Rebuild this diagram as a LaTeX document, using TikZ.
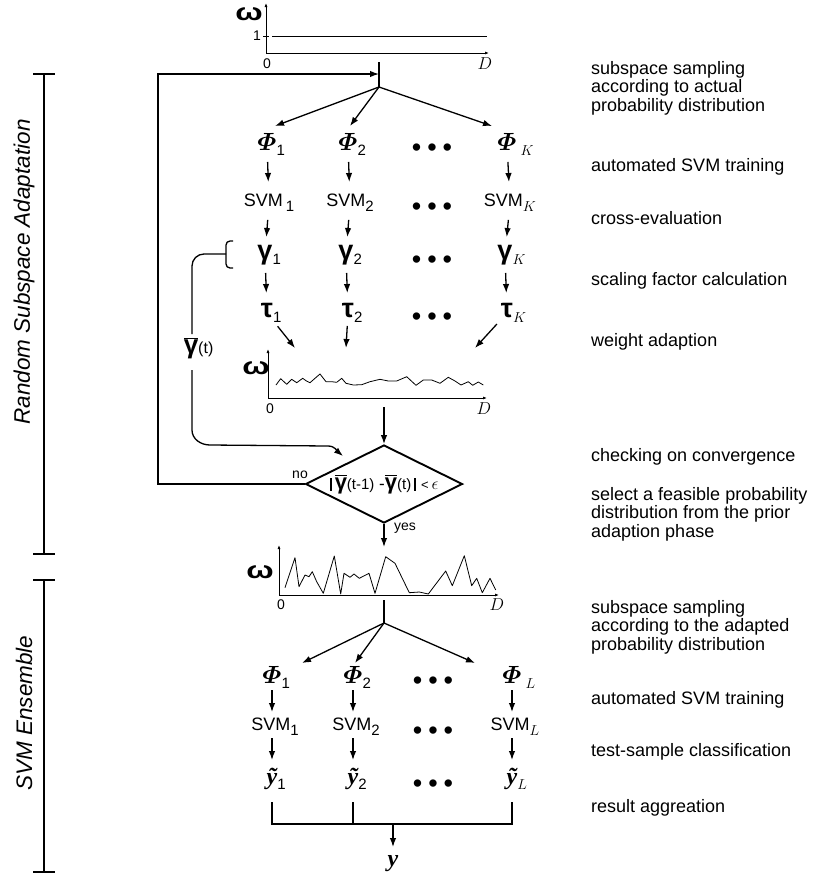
\documentclass[tikz,border=0pt]{standalone}
\usepackage{amsmath}
\usepackage{graphicx}
\usepackage{fontspec}
\setmainfont{Liberation Sans}
\newfontfamily\ytfont{Liberation Serif}
\usetikzlibrary{arrows.meta,shapes.geometric}
\newcommand\lsub[1]{\raisebox{-5pt}{\normalfont\fontsize{15}{15}\selectfont #1}}
\newcommand\gbar[1]{$\overline{\hbox{\fontsize{#1}{#1}\selectfont\bfseries γ}}$}
\newcommand\vbar{\rule[-1.5pt]{2.4pt}{13pt}}
\newcommand\omg{\scalebox{1.35}[1.0]{\fontsize{24}{24}\selectfont\bfseries ω}}
\newcommand\dotrowtext{•\hspace{6pt}•\hspace{6pt}•}
\newcommand\ytil{{\ytfont\bfseries\itshape ỹ}}
\newcommand\yplain{{\ytfont\bfseries\itshape y}}
\begin{document}
\begin{tikzpicture}[x=1pt,y=-1pt,
  conn/.style={line width=1.3pt},
  arr/.style={line width=1.3pt,-{Latex[length=9pt,width=6.5pt]}},
  axisline/.style={line width=1pt,-{Latex[length=4pt,width=3pt]}},
  plotline/.style={line width=0.8pt,line join=round},
  desc/.style={anchor=west,align=left,inner sep=0pt,font=\fontsize{18}{18.5}\selectfont},
  phi/.style={inner sep=0pt,font=\fontsize{24}{24}\selectfont},
  greek/.style={inner sep=0pt,font=\fontsize{27}{27}\selectfont\bfseries},
  svm/.style={inner sep=0pt,font=\fontsize{18}{18}\selectfont},
  tiny/.style={inner sep=0pt,font=\fontsize{14}{14}\selectfont},
  dotrow/.style={inner sep=0pt,font=\fontsize{27}{27}\selectfont},
  sidelabel/.style={rotate=90,inner sep=0pt,font=\fontsize{22.5}{22.5}\selectfont\itshape},
  bracketline/.style={line width=2.3pt}]
\useasboundingbox (0,0) rectangle (816,879);

% ---------- left brackets ----------
\draw[bracketline] (33,74) -- (55,74) (44,74) -- (44,554) (33,554) -- (55,554);
\draw[bracketline] (33,580) -- (55,580) (44,580) -- (44,872) (33,872) -- (55,872);
\node[sidelabel] (lab1) at (24,272) {Random Subspace Adaptation};
\node[sidelabel] (lab2) at (24,713) {SVM Ensemble};

% ---------- top plot ----------
\coordinate (o1) at (266,53);
\draw[axisline] (o1) -- (266,3);
\draw[axisline] (o1) -- (489,53);
\draw[line width=0.8pt] (263,36) -- (269,36);
\draw[line width=0.9pt] (272,36) -- (487,36);
\node[greek] (om1) at (249,14) {\omg};
\node[tiny] (one1) at (257,36) {1};
\node[tiny] (z1) at (267,64) {0};
\node[tiny] (d1) at (485,64) {\fontsize{17}{17}\selectfont$D$};

% ---------- first split ----------
\coordinate (s0) at (379,62);
\coordinate (sc) at (379,87);
\coordinate (fb) at (379,74);
\draw[conn] (s0) -- (sc);
\coordinate (ta1) at (275,126);
\coordinate (ta2) at (350,126);
\coordinate (taK) at (492,126);
\draw[arr] (sc) -- (ta1);
\draw[arr] (sc) -- (ta2);
\draw[arr] (sc) -- (taK);

% ---------- top columns ----------
\node[phi] (p1) at (267,144) {$\boldsymbol{\varPhi}$\rlap{\lsub{1}}};
\node[phi] (p2) at (348,144) {$\boldsymbol{\varPhi}$\rlap{\lsub{2}}};
\node[dotrow] (pd) at (432,150) {\dotrowtext};
\node[phi] (pK) at (507,144) {$\boldsymbol{\varPhi}$\rlap{\,\lsub{$K$}}};

\node[svm] (sv1) at (269,203) {SVM\,\lsub{1}};
\node[svm] (sv2) at (350,203) {SVM\lsub{2}};
\node[dotrow] (svd) at (432,209) {\dotrowtext};
\node[svm] (svK) at (510,203) {SVM\lsub{$K$}};

\node[greek] (g1) at (265,255) {γ\rlap{\lsub{1}}};
\node[greek] (g2) at (346,255) {γ\rlap{\lsub{2}}};
\node[dotrow] (gd) at (432,262) {\dotrowtext};
\node[greek] (gK) at (505,255) {γ\rlap{\lsub{$K$}}};

\node[greek] (t1) at (267,313) {τ\rlap{\lsub{1}}};
\node[greek] (t2) at (348,313) {τ\rlap{\lsub{2}}};
\node[dotrow] (td) at (432,319) {\dotrowtext};
\node[greek] (tK) at (507,313) {τ\rlap{\lsub{$K$}}};

\foreach \c in {1,2,K}{
  \draw[arr,shorten <=18pt,shorten >=21pt] (p\c.center) -- (sv\c.center |- 0,203);
  \draw[arr,shorten <=17pt,shorten >=18pt] (sv\c.center) -- (g\c.center);
  \draw[arr,shorten <=18pt,shorten >=20pt] (g\c.center) -- (t\c.center);
}

% ---------- middle plot ----------
\coordinate (m1) at (295,348);
\coordinate (m2) at (346,348);
\coordinate (m3) at (475,348);
\draw[arr,shorten <=17pt] (t1.center) -- (m1);
\draw[arr,shorten <=13pt] (t2.center) -- (m2);
\draw[arr,shorten <=15pt] (tK.center) -- (m3);

\coordinate (o2) at (268,398);
\draw[axisline] (o2) -- (268,349);
\draw[axisline] (o2) -- (487,398);
\draw[plotline] (276,385) -- (280.7,378.7) -- (286.7,384.3) -- (291.7,379.3) -- (296.7,382.7) -- (302.7,378.3) -- (306,380.7) -- (310,382.7) -- (315,378.3) -- (320,374) -- (326,381.7) -- (331.7,381.7) -- (336.7,382.3) -- (341.7,378.3) -- (346,383.3) -- (353.3,385) -- (361.7,384.7) -- (370,381.7) -- (380,379.3) -- (388.3,381) -- (396.7,381) -- (406.7,376.7) -- (416,385.3) -- (423.3,380) -- (431.7,380) -- (440,383.3) -- (448.3,377.3) -- (455,381) -- (461,385) -- (468.3,381.7) -- (472.7,385.3) -- (478.3,382) -- (483.3,385);
\node[greek] (om2) at (256,368) {\omg};
\node[tiny] (z2) at (270,409) {0};
\node[tiny] (d2) at (484,409) {\fontsize{17}{17}\selectfont$D$};

% ---------- convergence check ----------
\node[diamond,draw,line width=1.9pt,aspect=2,minimum width=157pt,minimum height=78pt,inner sep=0pt,font=\fontsize{17}{17}\selectfont] (dia) at (384,484)
  {\vbar\,\gbar{22}{\fontsize{15}{15}\selectfont(t-1)}\ -\gbar{22}{\fontsize{15}{15}\selectfont(t)}\,\vbar\ {\fontsize{13}{13}\selectfont<}\,$\epsilon$};
\coordinate (pd0) at (384,407);
\draw[arr] (pd0) -- (dia.north);
\node[tiny] (nolab) at (300,475) {no};
\node[tiny] (yeslab) at (405,528) {yes};
\coordinate (fbc) at (158,484);
\draw[arr] (dia.west) -- (fbc) |- (fb);

% gamma-bar feedback
\draw[conn,rounded corners=4pt] (233,241) -- (226,241) -- (226,268) -- (233,268);
\coordinate (gb) at (226,254);
\node[inner sep=0pt] (gl) at (191,348) {\gbar{26}\rlap{\fontsize{16}{16}\selectfont(t)}};
\draw[conn] (gb) -- (204,254) to[out=180,in=90] (192,266) -- (192,334);
\coordinate (gtip) at (343,456);
\draw[arr] (192,370) -- (192,430) to[out=-90,in=180] (210,445) -- (328,446) to[out=0,in=140] (gtip);

% ---------- bottom plot ----------
\coordinate (bp) at (384,547);
\draw[arr] (dia.south) -- (bp);
\coordinate (o3) at (279,595);
\draw[axisline] (o3) -- (279,545);
\draw[axisline] (o3) -- (499,595);
\draw[plotline] (285,587.7) -- (295,557.7) -- (299,586.7) -- (305,575) -- (309,576.7) -- (312.3,571.7) -- (316.7,581.7) -- (323.3,593.3) -- (334.3,556) -- (340.7,594) -- (344,573.3) -- (350,577.3) -- (354,574) -- (359.3,578.3) -- (369,573.3) -- (375,593.3) -- (385.7,556.7) -- (395,563.3) -- (409.3,592.7) -- (419.3,592) -- (428.3,594) -- (445.7,571) -- (452.3,585.7) -- (464.3,555.7) -- (471.7,585.7) -- (476.7,578.3) -- (482.3,592.7) -- (490,578.3) -- (495.7,590);
\node[greek] (om3) at (260,572) {\omg};
\node[tiny] (z3) at (281,605) {0};
\node[tiny] (d3) at (497,605) {\fontsize{17}{17}\selectfont$D$};

% ---------- second split ----------
\coordinate (b0) at (384,600);
\coordinate (bc) at (384,623);
\draw[conn] (b0) -- (bc);
\coordinate (tb1) at (302,663);
\coordinate (tb2) at (355,663);
\coordinate (tb3) at (475,663);
\draw[arr] (bc) -- (tb1);
\draw[arr] (bc) -- (tb2);
\draw[arr] (bc) -- (tb3);

% ---------- bottom columns ----------
\node[phi] (q1) at (272,677) {$\boldsymbol{\varPhi}$\rlap{\lsub{1}}};
\node[phi] (q2) at (353,677) {$\boldsymbol{\varPhi}$\rlap{\lsub{2}}};
\node[dotrow] (qd) at (433,683) {\dotrowtext};
\node[phi] (qL) at (512,677) {$\boldsymbol{\varPhi}$\rlap{\,\lsub{$L$}}};

\node[svm] (w1) at (275,727) {SVM\lsub{1}};
\node[svm] (w2) at (356,727) {SVM\lsub{2}};
\node[dotrow] (wd) at (433,733) {\dotrowtext};
\node[svm] (wL) at (515,727) {SVM\lsub{$L$}};

\node[phi] (y1) at (272,779) {\ytil\rlap{\lsub{1}}};
\node[phi] (y2) at (353,779) {\ytil\rlap{\lsub{2}}};
\node[dotrow] (yd) at (433,786) {\dotrowtext};
\node[phi] (yL) at (512,779) {\ytil\rlap{\lsub{$L$}}};

\foreach \c in {1,2,L}{
  \draw[arr,shorten <=13pt,shorten >=15pt] (q\c.center) -- (q\c.center |- 0,727);
  \draw[arr,shorten <=11pt,shorten >=19pt] (q\c.center |- 0,727) -- (y\c.center);
}

\coordinate (agg) at (393,824);
\draw[conn,shorten <=23pt,shorten >=23pt] (y1.center) -- (y1.center |- agg) -- (yL.center |- agg) -- (yL.center);
\draw[conn,shorten <=23pt] (y2.center) -- (y2.center |- agg);
\node[phi] (yout) at (393,864) {\yplain};
\draw[arr,shorten >=17pt] (agg) -- (yout.center);

% ---------- right descriptions ----------
\node[desc] (r1) at (591,88) {subspace sampling\\according to actual\\probability distribution};
\node[desc] (r2) at (591,167) {automated SVM training};
\node[desc] (r3) at (591,218) {cross-evaluation};
\node[desc] (r4) at (591,281) {scaling factor calculation};
\node[desc] (r5) at (591,342) {weight adaption};
\node[desc] (r6) at (591,457) {checking on convergence};
\node[desc] (r7) at (591,514) {select a feasible probability\\distribution from the prior\\adaption phase};
\node[desc] (r8) at (591,627) {subspace sampling\\according to the adapted\\probability distribution};
\node[desc] (r9) at (591,700) {automated SVM training};
\node[desc] (r10) at (591,752) {test-sample classification};
\node[desc] (r11) at (591,808) {result aggreation};
\end{tikzpicture}
\end{document}
